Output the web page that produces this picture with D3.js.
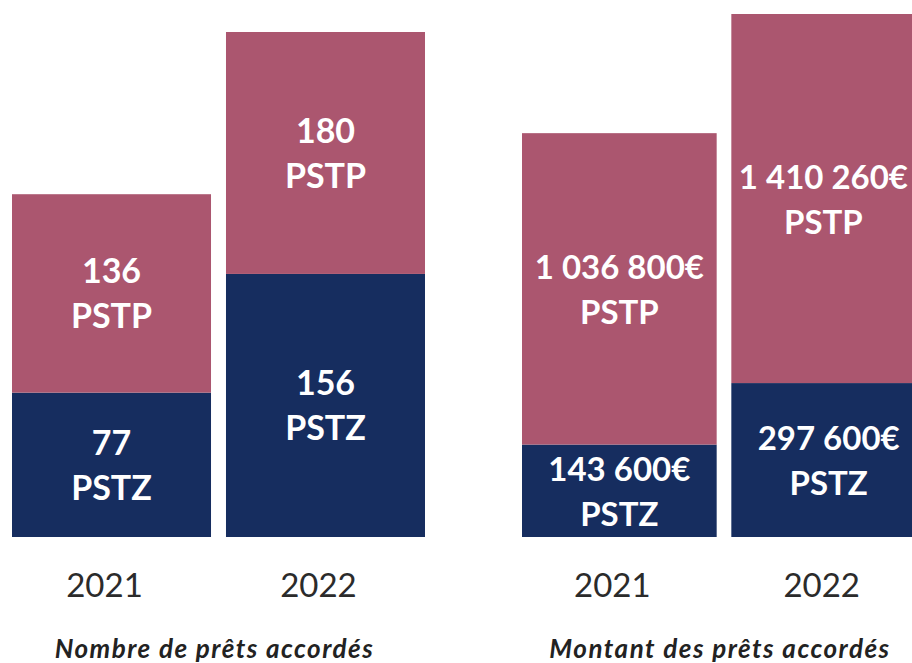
<!DOCTYPE html>
<html>
<head>
<meta charset="utf-8">
<script src="https://cdn.jsdelivr.net/npm/d3@7"></script>
<style>
  body { margin: 0; background: #fff; }
  text { font-family: Lato, "Open Sans", sans-serif; }
</style>
</head>
<body>
<div id="chart"></div>
<script>
// data
const years = ["2021", "2022"];
const series = ["PSTZ", "PSTP"];
const nombrePSTZ = [77, 156];
const nombrePSTP = [136, 180];
const montantPSTZ = [143600, 297600];
const montantPSTP = [1036800, 1410260];
const titles = ["Nombre de prêts accordés", "Montant des prêts accordés"];

const width = 912, height = 663;
const baseline = 537;
const colors = { PSTZ: "#162d5f", PSTP: "#ab566f" };

const fr = d3.formatLocale({ decimal: ",", thousands: " ", grouping: [3], currency: ["", "€"] });
const fmtCount = fr.format(",d");
const fmtEuro = fr.format("$,d");

const svg = d3.select("#chart").append("svg")
    .attr("width", width)
    .attr("height", height);

function drawPanel(pstz, pstp, opts) {
    const rows = years.map((y, i) => ({ year: y, PSTZ: pstz[i], PSTP: pstp[i] }));
    const stacked = d3.stack().keys(series)(rows);

    const x = d3.scaleBand()
        .domain(years)
        .range(opts.xRange)
        .paddingInner(0.07);

    // the original bars are not drawn to a linear scale, a power scale follows them best
    const y = d3.scalePow()
        .exponent(opts.exponent)
        .domain([0, d3.max(rows, d => d.PSTZ + d.PSTP)])
        .range([baseline, baseline - opts.maxHeight]);

    const g = svg.append("g");

    const layer = g.selectAll(".layer")
        .data(stacked)
        .join("g")
        .attr("class", "layer")
        .attr("fill", d => colors[d.key]);

    layer.selectAll("rect")
        .data(d => d)
        .join("rect")
        .attr("x", d => x(d.data.year))
        .attr("width", x.bandwidth())
        .attr("y", d => y(d[1]))
        .attr("height", d => y(d[0]) - y(d[1]));

    const labels = g.selectAll(".lbl")
        .data(stacked.flatMap(s => s.map(d => ({ key: s.key, d: d }))))
        .join("text")
        .attr("class", "lbl")
        .attr("text-anchor", "middle")
        .attr("fill", "#fff")
        .attr("font-weight", 700)
        .attr("font-size", opts.labelSize);

    labels.each(function (o) {
        const mid = (y(o.d[0]) + y(o.d[1])) / 2;
        const cx = x(o.d.data.year) + x.bandwidth() / 2;
        const t = d3.select(this);
        t.append("tspan").attr("x", cx).attr("y", mid - 10).text(opts.fmt(o.d.data[o.key]));
        t.append("tspan").attr("x", cx).attr("y", mid + 35).text(o.key);
        // keep the label inside the page when the bar runs off the right edge
        const half = this.getBBox().width / 2;
        t.selectAll("tspan").attr("x", Math.min(cx, width - half - 4));
    });

    g.selectAll(".year")
        .data(years)
        .join("text")
        .attr("class", "year")
        .attr("x", d => x(d) + x.bandwidth() / 2 - 7)
        .attr("y", 597)
        .attr("text-anchor", "middle")
        .attr("fill", "#2b2b2b")
        .attr("font-size", 33)
        .text(d => d);

    g.append("text")
        .attr("x", (opts.xRange[0] + opts.xRange[1]) / 2 - 4)
        .attr("y", 658)
        .attr("text-anchor", "middle")
        .attr("fill", "#222")
        .attr("font-weight", 700)
        .attr("font-style", "italic")
        .attr("font-size", 26)
        .attr("letter-spacing", 1.5)
        .text(opts.title);
}

drawPanel(nombrePSTZ, nombrePSTP, {
    xRange: [12, 425], exponent: 0.85, maxHeight: 505, fmt: fmtCount, labelSize: 34, title: titles[0]
});
drawPanel(montantPSTZ, montantPSTP, {
    xRange: [522, 926], exponent: 0.7, maxHeight: 523, fmt: fmtEuro, labelSize: 33, title: titles[1]
});
</script>
</body>
</html>
